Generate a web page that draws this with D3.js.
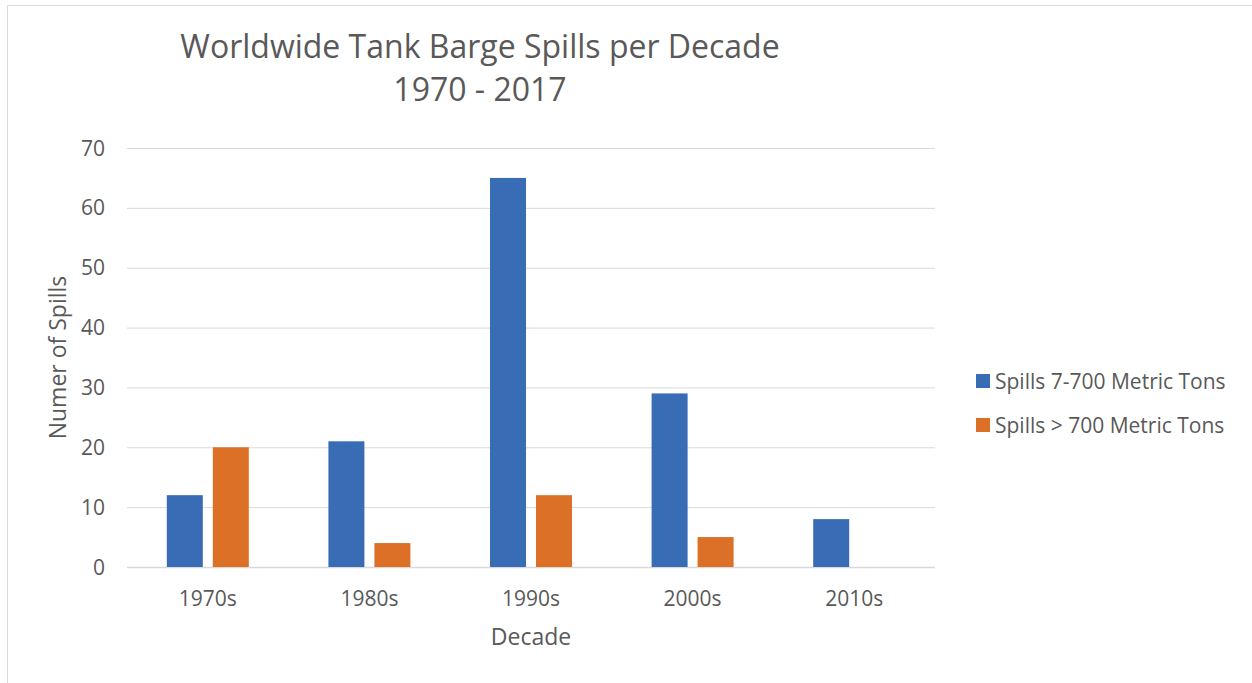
<!DOCTYPE html>
<html>
<head>
<meta charset="utf-8">
<script src="https://cdn.jsdelivr.net/npm/d3@7"></script>
<style>
    body { margin: 0; background: #fff; }
    text { font-family: "Open Sans", sans-serif; fill: #595959; }
</style>
</head>
<body>
<div id="chart"></div>
<script>
const decades = ["1970s", "1980s", "1990s", "2000s", "2010s"];
const seriesNames = ["Spills 7-700 Metric Tons", "Spills > 700 Metric Tons"];
const smallSpills = [12, 21, 65, 29, 8];
const largeSpills = [20, 4, 12, 5, 0];
const yTicks = [0, 10, 20, 30, 40, 50, 60, 70];
const colors = ["#386db6", "#dc7027"];

const width = 1252;
const height = 683;
const plot = { left: 127, right: 935, top: 148, bottom: 567 };

const data = decades.map((d, i) => ({
    decade: d,
    values: [smallSpills[i], largeSpills[i]]
}));

const svg = d3.select("#chart")
    .append("svg")
    .attr("width", width)
    .attr("height", height);

// chart frame
svg.append("path")
    .attr("d", `M7.5,${height} V5.5 H${width}`)
    .attr("fill", "none")
    .attr("stroke", "#d9d9d9")
    .attr("stroke-width", 1);

const x0 = d3.scaleBand()
    .domain(decades)
    .range([plot.left, plot.right])
    .paddingInner(0.4926)
    .paddingOuter(0.2463);

const x1 = d3.scaleBand()
    .domain([0, 1])
    .range([0, x0.bandwidth()])
    .paddingInner(0.217);

const y = d3.scaleLinear()
    .domain([0, 70])
    .range([plot.bottom, plot.top]);

// gridlines
svg.append("g")
    .selectAll("line")
    .data(yTicks)
    .join("line")
    .attr("x1", plot.left)
    .attr("x2", plot.right)
    .attr("y1", d => y(d) + 0.5)
    .attr("y2", d => y(d) + 0.5)
    .attr("stroke", "#d9d9d9")
    .attr("stroke-width", d => d === 0 ? 1.5 : 1);

// y tick labels
svg.append("g")
    .selectAll("text")
    .data(yTicks)
    .join("text")
    .attr("x", 105)
    .attr("y", d => y(d))
    .attr("dy", "0.36em")
    .attr("text-anchor", "end")
    .style("font-size", "21px")
    .text(d => d);

// bars
const groups = svg.append("g")
    .selectAll("g")
    .data(data)
    .join("g")
    .attr("transform", d => `translate(${x0(d.decade)},0)`);

groups.selectAll("rect")
    .data(d => d.values.map((v, i) => ({ i, v })))
    .join("rect")
    .attr("x", d => x1(d.i))
    .attr("width", x1.bandwidth())
    .attr("y", d => y(d.v))
    .attr("height", d => y(0) - y(d.v))
    .attr("fill", d => colors[d.i]);

// x tick labels
svg.append("g")
    .selectAll("text")
    .data(decades)
    .join("text")
    .attr("x", d => x0(d) + x0.bandwidth() / 2)
    .attr("y", 598)
    .attr("dy", "0.36em")
    .attr("text-anchor", "middle")
    .style("font-size", "21px")
    .text(d => d);

// axis titles
svg.append("text")
    .attr("x", (plot.left + plot.right) / 2)
    .attr("y", 645)
    .attr("text-anchor", "middle")
    .style("font-size", "23px")
    .text("Decade");

svg.append("text")
    .attr("transform", `translate(66,${(plot.top + plot.bottom) / 2}) rotate(-90)`)
    .attr("text-anchor", "middle")
    .style("font-size", "23px")
    .text("Numer of Spills");

// title
const title = svg.append("text")
    .attr("text-anchor", "middle")
    .style("font-size", "32px");
title.append("tspan").attr("x", 480).attr("y", 58).text("Worldwide Tank Barge Spills per Decade");
title.append("tspan").attr("x", 480).attr("y", 101).text("1970 - 2017");

// legend
const legend = svg.append("g")
    .selectAll("g")
    .data(seriesNames)
    .join("g")
    .attr("transform", (d, i) => `translate(976,${381 + i * 44})`);

legend.append("rect")
    .attr("x", 0)
    .attr("y", -7)
    .attr("width", 14)
    .attr("height", 14)
    .attr("fill", (d, i) => colors[i]);

legend.append("text")
    .attr("x", 19)
    .attr("dy", "0.36em")
    .style("font-size", "21px")
    .text(d => d);
</script>
</body>
</html>
